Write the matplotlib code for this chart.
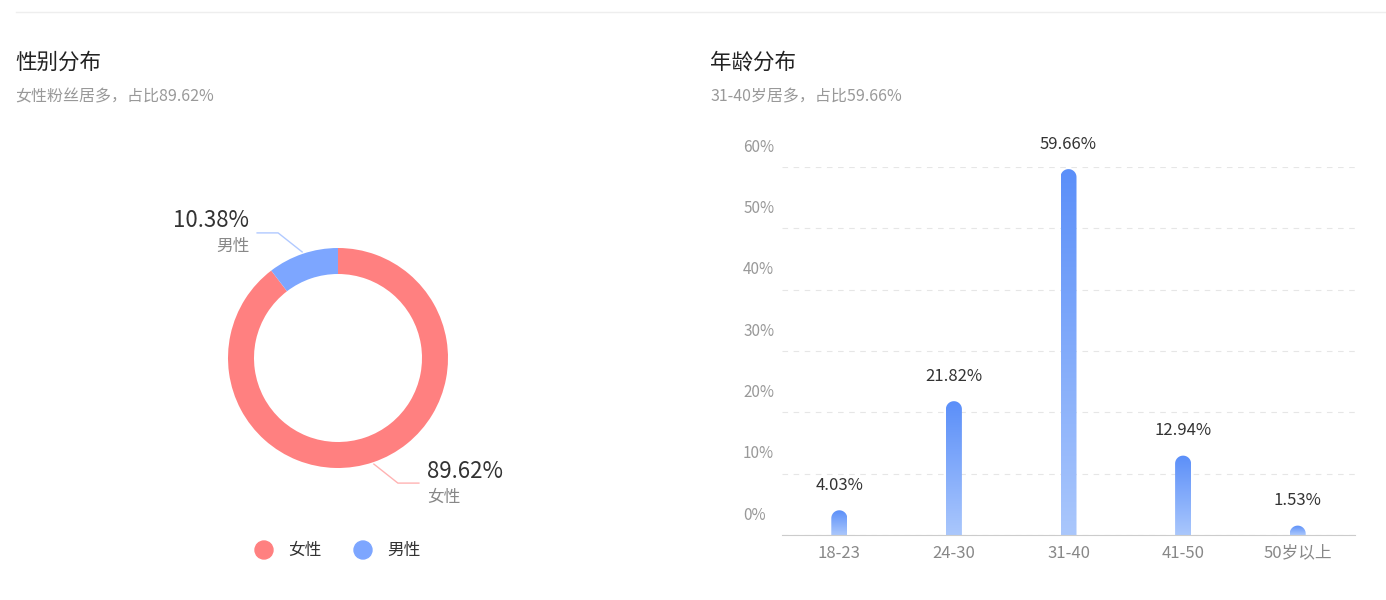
import numpy as np
import matplotlib
matplotlib.use("Agg")
import matplotlib.pyplot as plt
from matplotlib.path import Path
from matplotlib.patches import PathPatch, Circle
from matplotlib.colors import LinearSegmentedColormap
from matplotlib.transforms import ScaledTranslation

plt.rcParams['font.family'] = ['Noto Sans CJK SC', 'DejaVu Sans']

# gender data
gender_labels = ["女性", "男性"]
gender_values = [89.62, 10.38]
gender_colors = ["#FF8080", "#7DA6FF"]

# age data
age_labels = ["18-23", "24-30", "31-40", "41-50", "50岁以上"]
age_values = [4.03, 21.82, 59.66, 12.94, 1.53]
y_ticks = [0, 10, 20, 30, 40, 50, 60]

W, H = 1386, 600
fig = plt.figure(figsize=(W / 100, H / 100), dpi=100)
fig.patch.set_facecolor("white")


def px(x, y):
    # pixel coords (top-left origin) -> figure fraction
    return x / W, 1 - y / H


# top divider
fig.add_artist(plt.Line2D([16 / W, 1], [1 - 12 / H] * 2, color="#eeeeee", lw=1))

# titles
fig.text(*px(15, 63), "性别分布", fontsize=15.5, color="#222222", va="center")
fig.text(*px(15, 97), "女性粉丝居多，占比89.62%", fontsize=11.5, color="#999999", va="center")
fig.text(*px(710, 63), "年龄分布", fontsize=15.5, color="#222222", va="center")
fig.text(*px(710, 97), "31-40岁居多，占比59.66%", fontsize=11.5, color="#999999", va="center")

# ---- donut ----
cx, cy, half = 338, 358, 200
ax1 = fig.add_axes([(cx - half) / W, 1 - (cy + half) / H, 2 * half / W, 2 * half / H])
wedges, _ = ax1.pie(gender_values, colors=gender_colors, radius=110, startangle=90,
                    counterclock=False, wedgeprops=dict(width=26, linewidth=0),
                    frame=True)
ax1.set_xlim(-half, half)
ax1.set_ylim(-half, half)
ax1.axis("off")

# label lines + texts
for i, w in enumerate(wedges):
    ang = np.deg2rad((w.theta1 + w.theta2) / 2)
    x0, y0 = 112 * np.cos(ang), 112 * np.sin(ang)
    side = 1 if np.cos(ang) > 0 else -1
    vs = 1 if np.sin(ang) > 0 else -1
    x1, y1 = x0 + side * 24, y0 + vs * 19
    x2 = x1 + side * 21
    ax1.plot([x0, x1, x2], [y0, y1, y1], color=gender_colors[i], lw=1, alpha=0.6)
    ha = "left" if side > 0 else "right"
    tx = x2 + side * 8
    ax1.text(tx, y1 + 12, "%.2f%%" % gender_values[i], fontsize=16, color="#333333",
             ha=ha, va="center")
    ax1.text(tx, y1 - 14, gender_labels[i], fontsize=12, color="#888888",
             ha=ha, va="center")

# legend
leg_x = [264, 363]
for i, lab in enumerate(gender_labels):
    fig.add_artist(Circle((leg_x[i], H - 550), 9, color=gender_colors[i],
                          transform=None))
    fig.text(*px(leg_x[i] + 24, 550), lab, fontsize=12, color="#333333", va="center")

# ---- bar chart ----
left, right, base, top = 782, 1355, 535, 167
ax2 = fig.add_axes([left / W, 1 - base / H, (right - left) / W, (base - top) / H])
ax2.set_xlim(-0.5, len(age_values) - 0.5)
ax2.set_ylim(0, 60)
xpos = np.arange(len(age_values))
bar_w = 16 / ((right - left) / len(age_values))
bars = ax2.bar(xpos, age_values, width=bar_w, color="none", edgecolor="none")

cmap = LinearSegmentedColormap.from_list("bar", ["#AAC7FC", "#5B8FF9"])
grad = np.linspace(0, 1, 256).reshape(-1, 1)
px_per_unit = (base - top) / 60.0
r_y = 8 / px_per_unit
for b, v in zip(bars, age_values):
    x0 = b.get_x()
    x1 = x0 + b.get_width()
    xc = (x0 + x1) / 2
    hw = b.get_width() / 2
    yb = v - r_y
    t = np.linspace(0, np.pi, 30)
    verts = [(x0, 0), (x1, 0), (x1, yb)]
    verts += [(xc + hw * np.cos(a), yb + r_y * np.sin(a)) for a in t]
    verts += [(x0, yb), (x0, 0)]
    codes = [Path.MOVETO] + [Path.LINETO] * (len(verts) - 2) + [Path.CLOSEPOLY]
    patch = PathPatch(Path(verts, codes), facecolor="none", edgecolor="none")
    ax2.add_patch(patch)
    im = ax2.imshow(grad, cmap=cmap, origin="lower", aspect="auto",
                    extent=[x0, x1, 0, v], zorder=2)
    im.set_clip_path(patch)
    ax2.annotate("%.2f%%" % v, (xc, v), xytext=(0, 25), textcoords="offset pixels",
                 ha="center", va="center", fontsize=12, color="#333333",
                 annotation_clip=False)

ax2.set_xlim(-0.5, len(age_values) - 0.5)
ax2.set_ylim(0, 60)
for s in ["top", "right", "left"]:
    ax2.spines[s].set_visible(False)
ax2.spines["bottom"].set_color("#cccccc")
ax2.set_yticks(y_ticks)
ax2.set_yticklabels(["%d%%" % t for t in y_ticks])
ax2.set_xticks(xpos)
ax2.set_xticklabels(age_labels)
ax2.tick_params(axis="y", length=0, pad=28, labelsize=11, labelcolor="#999999")
ax2.tick_params(axis="x", length=0, pad=7, labelsize=12, labelcolor="#888888")
for lab in ax2.get_yticklabels():
    lab.set_horizontalalignment("left")
    lab.set_transform(lab.get_transform() + ScaledTranslation(0, 0.22, fig.dpi_scale_trans))
ax2.yaxis.grid(True, color="#e6e6e6", linestyle=(0, (5, 5)), lw=0.8)
ax2.set_axisbelow(True)
ax2.set_facecolor("none")

fig.savefig("out.png", dpi=100, facecolor="white")
